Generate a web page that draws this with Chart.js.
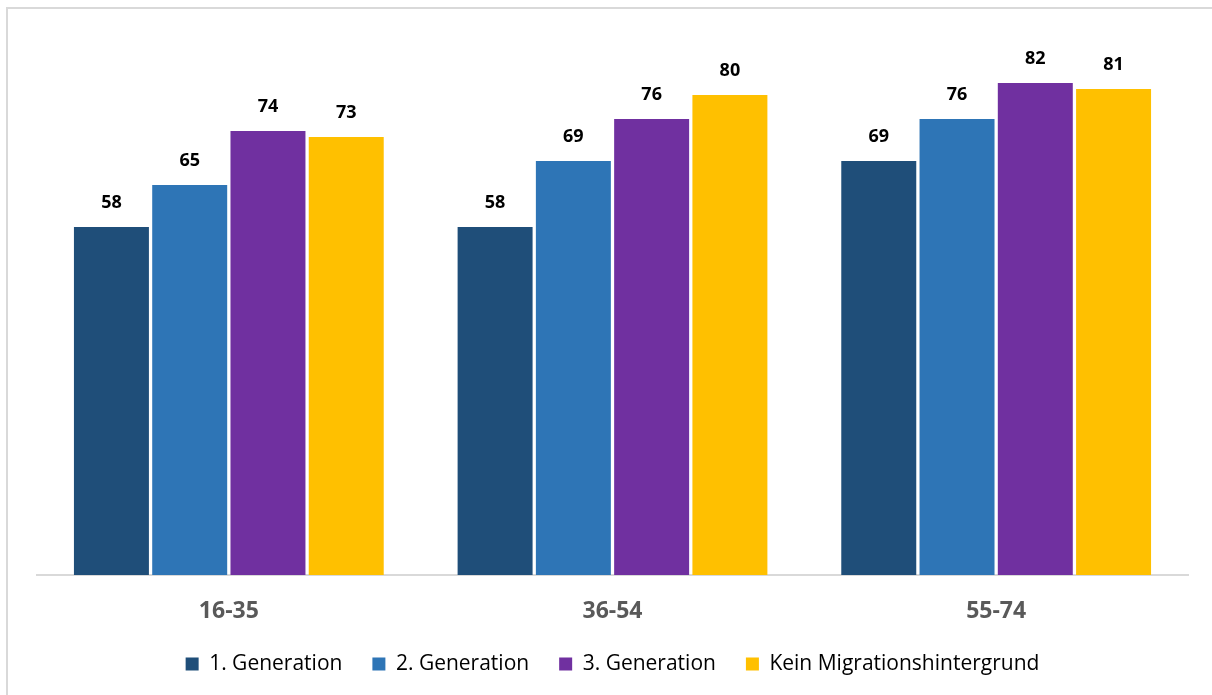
<!DOCTYPE html>
<html>
<head>
<meta charset="utf-8">
<script src="https://cdn.jsdelivr.net/npm/chart.js@4.4.1/dist/chart.umd.min.js"></script>
<style>
  html, body { margin: 0; padding: 0; background: #fff; }
  #frame { position: absolute; left: 6px; top: 7px; width: 1206px; height: 688px; border-left: 2px solid #d9d9d9; border-top: 2px solid #d9d9d9; box-sizing: border-box; }
  #wrap { position: absolute; left: 0; top: 0; width: 1212px; height: 695px; }
</style>
</head>
<body>
<div id="frame"></div>
<div id="wrap"><canvas id="chart"></canvas></div>
<script>
const ageGroups = ['16-35', '36-54', '55-74'];
const seriesNames = ['1. Generation', '2. Generation', '3. Generation', 'Kein Migrationshintergrund'];
const gen1 = [58, 58, 69];
const gen2 = [65, 69, 76];
const gen3 = [74, 76, 82];
const keinMigration = [73, 80, 81];
const colors = ['#1F4E79', '#2E75B6', '#7030A0', '#FFC000'];

const FONT = "'Open Sans', 'Noto Sans', sans-serif";

// value labels above each bar
const barLabels = {
  id: 'barLabels',
  afterDatasetsDraw(chart) {
    const ctx = chart.ctx;
    ctx.save();
    ctx.font = 'bold 18px ' + FONT;
    ctx.fillStyle = '#000';
    ctx.textAlign = 'center';
    ctx.textBaseline = 'middle';
    chart.data.datasets.forEach((ds, i) => {
      chart.getDatasetMeta(i).data.forEach((bar, j) => {
        ctx.fillText(ds.data[j], bar.x, bar.y - 24);
      });
    });
    ctx.restore();
  }
};

new Chart(document.getElementById('chart'), {
  type: 'bar',
  data: {
    labels: ageGroups,
    datasets: [gen1, gen2, gen3, keinMigration].map((d, i) => ({
      label: seriesNames[i],
      data: d,
      backgroundColor: colors[i],
      borderWidth: 0,
      barPercentage: 0.958,
      categoryPercentage: 0.816
    }))
  },
  options: {
    responsive: true,
    maintainAspectRatio: false,
    animation: false,
    layout: { padding: { left: 37, right: 24, top: 35, bottom: 10.5 } },
    plugins: {
      tooltip: { enabled: false },
      legend: {
        position: 'bottom',
        labels: {
          color: '#000',
          font: { family: FONT, size: 21 },
          boxWidth: 13,
          boxHeight: 13,
          padding: 30
        }
      }
    },
    scales: {
      y: { display: false, min: 0, max: 90 },
      x: {
        grid: { display: false },
        border: { color: '#d9d9d9', width: 2 },
        ticks: { color: '#595959', font: { family: FONT, size: 23, weight: 'bold' }, padding: 15 },
        afterFit(scale) { scale.height = 48.5; }
      }
    }
  },
  plugins: [barLabels]
});
</script>
</body>
</html>
